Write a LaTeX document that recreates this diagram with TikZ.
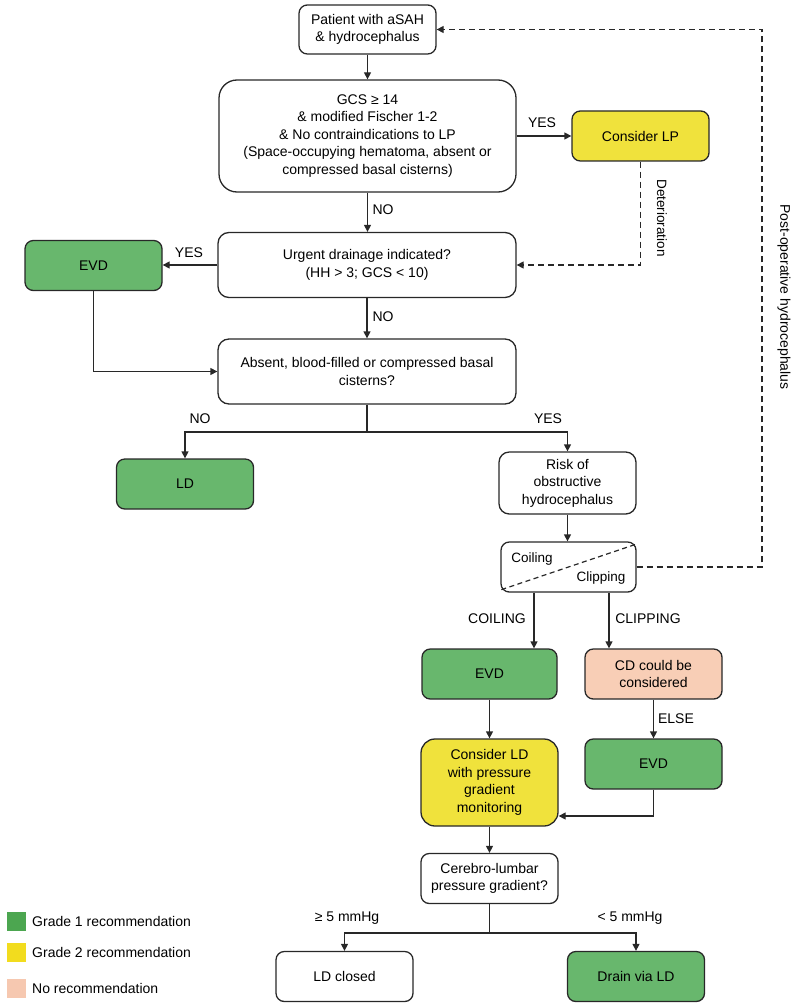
\documentclass[tikz,border=0pt]{standalone}
\usepackage{fontspec}
\setmainfont{Liberation Sans}
\usetikzlibrary{arrows.meta}
\definecolor{linec}{RGB}{40,40,40}
\definecolor{grn}{RGB}{104,183,109}
\definecolor{yel}{RGB}{240,226,60}
\definecolor{peach}{RGB}{248,206,182}
\definecolor{lgrn}{RGB}{76,166,80}
\definecolor{lyel}{RGB}{242,220,30}
\definecolor{lpeach}{RGB}{246,200,176}
\newcommand\myfs{\fontsize{14}{17.5}\selectfont}
\newcommand\mysm{\fontsize{13.5}{16}\selectfont}
\begin{document}
\begin{tikzpicture}[x=1pt,y=-1pt,
  box/.style={draw=linec, line width=1.3pt, minimum width=137pt, minimum height=50pt,
    align=center, inner sep=1pt, font=\myfs, rounded corners=8.3pt, text=black},
  lbl/.style={font=\myfs, inner sep=0pt},
  arr/.style={draw=linec, line width=1.3pt, -{Triangle[length=7pt,width=7pt]}},
  dsh/.style={arr, dash pattern=on 6pt off 4pt},
  sq/.style={minimum size=19pt, inner sep=0pt}
]
\useasboundingbox (0,0) rectangle (794,1008);

% nodes
\node[box, minimum height=49pt] (pat) at (367.5,29.5) {Patient with aSAH\\\& hydrocephalus};
\node[box, minimum width=297pt, minimum height=112pt, rounded corners=18pt] (gcs) at (367.5,136)
  {GCS ≥ 14\\\& modified Fischer 1-2\\\& No contraindications to LP\\(Space-occupying hematoma, absent or\\compressed basal cisterns)};
\node[box, fill=yel] (lp) at (640.5,136) {Consider LP};
\node[box, minimum width=298pt, minimum height=65pt, rounded corners=11pt] (urg) at (367,265)
  {Urgent drainage indicated?\\(HH > 3; GCS < 10)};
\node[box, fill=grn] (evd1) at (93.5,265.5) {EVD};
\node[box, minimum width=298pt, minimum height=65pt, rounded corners=11pt] (abs) at (367,371.5)
  {Absent, blood-filled or compressed basal\\cisterns?};
\node[box, fill=grn] (ld) at (185,484) {LD};
\node[box, minimum height=62pt, rounded corners=10.3pt] (risk) at (567.5,483) {Risk of\\obstructive\\hydrocephalus};
\node[box, minimum width=135pt] (cc) at (568.5,567) {};
\node[box, fill=grn, minimum width=135pt] (evd2) at (489.5,674) {EVD};
\node[box, fill=peach] (cd) at (653.5,674) {CD could be\\considered};
\node[box, fill=yel, minimum height=87pt, rounded corners=14pt] (cld) at (489.5,782.5)
  {Consider LD\\with pressure\\gradient\\monitoring};
\node[box, fill=grn] (evd3) at (653.5,764) {EVD};
\node[box] (clg) at (489.5,878.5) {Cerebro-lumbar\\pressure gradient?};
\node[box] (ldc) at (344.5,976.5) {LD closed};
\node[box, fill=grn] (dld) at (636,976.5) {Drain via LD};

% coiling / clipping split
\draw[linec, line width=1.2pt, dash pattern=on 5pt off 3.5pt]
  ([shift={(1,-3)}]cc.south west) -- ([shift={(-1,3)}]cc.north east);
\node[font=\mysm, inner sep=0pt] (coil) at (532,559) {Coiling};
\node[font=\mysm, inner sep=0pt] (clip) at (601,578) {Clipping};

% connectors
\draw[arr] (pat) -- (gcs);
\draw[arr] (gcs) -- (lp);
\draw[arr] (gcs.south) -- (gcs.south |- urg.north);
\draw[dsh] (lp.south) |- (urg.east);
\draw[arr] (urg.west) -- (urg.west -| evd1.east);
\draw[arr] (urg) -- (abs);
\draw[arr] (evd1.south) |- (abs.west);
\coordinate (s1) at (367,432);
\draw[linec, line width=1.3pt] (abs.south) -- (s1);
\draw[arr] (s1) -| (ld.north);
\draw[arr] (s1) -| (risk.north);
\draw[arr] (risk.south) -- (risk.south |- cc.north);
\coordinate (po) at (762,0);
\draw[dsh] (cc.east) -- (cc.east -| po) |- (pat.east);
\draw[arr] ([xshift=-34.5pt]cc.south) -- ([xshift=-34.5pt]cc.south |- evd2.north);
\draw[arr] ([xshift=40.5pt]cc.south) -- ([xshift=40.5pt]cc.south |- cd.north);
\draw[arr] (evd2) -- (cld);
\draw[arr] (cd) -- (evd3);
\coordinate (j3) at (653.5,816);
\draw[arr] (evd3.south) -- (j3) -- (j3 -| cld.east);
\draw[arr] (cld) -- (clg);
\coordinate (s2) at (489.5,933);
\draw[linec, line width=1.3pt] (clg.south) -- (s2);
\draw[arr] (s2) -| (ldc.north);
\draw[arr] (s2) -| (dld.north);

% labels
\node[lbl] (y1) at (542,123) {YES};
\node[lbl] (n1) at (383,210) {NO};
\node[lbl] (y2) at (189,253) {YES};
\node[lbl] (n2) at (383,317) {NO};
\node[lbl] (n3) at (200,419) {NO};
\node[lbl] (y3) at (548,419) {YES};
\node[lbl] (lcoil) at (497,619) {COILING};
\node[lbl] (lclip) at (648,619) {CLIPPING};
\node[lbl] (lelse) at (676,719) {ELSE};
\node[lbl] (lge) at (347,918) {≥ 5 mmHg};
\node[lbl] (llt) at (630,918) {< 5 mmHg};
\node[font=\mysm, inner sep=0pt, rotate=-90] (det) at (662,218) {Deterioration};
\node[lbl, rotate=-90] (post) at (784,297) {Post-operative hydrocephalus};

% legend
\node[sq, fill=lgrn] (k1) at (16.5,921) {};
\node[sq, fill=lyel] (k2) at (16.5,952.5) {};
\node[sq, fill=lpeach] (k3) at (16.5,988) {};
\node[lbl, anchor=west] (t1) at (32,921) {Grade 1 recommendation};
\node[lbl, anchor=west] (t2) at (32,952.5) {Grade 2 recommendation};
\node[lbl, anchor=west] (t3) at (32,988) {No recommendation};
\end{tikzpicture}
\end{document}
